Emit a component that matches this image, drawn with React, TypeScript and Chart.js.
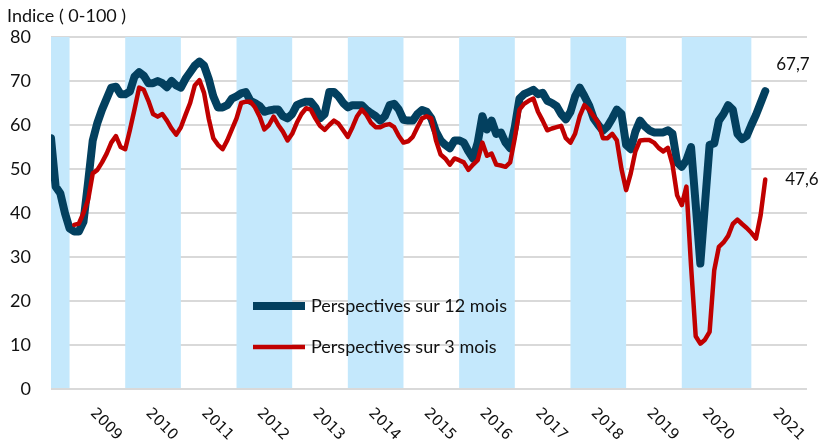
import React, { useEffect, useRef } from "react";
import { Chart, registerables } from "chart.js";

Chart.register(...registerables);

// Monthly observations, first month = September 2008
const START_YEAR = 2008;
const START_MONTH = 9;

const blue12m: number[] = [
  // 2008 Sep-Dec
  57, 46, 44.5, 40,
  // 2009
  36.5, 35.8, 35.8, 38, 47, 56.5, 60.5, 63.5, 66, 68.5, 68.7, 67,
  // 2010
  67, 67.6, 71, 72, 71.2, 69.5, 69.5, 70, 69.5, 68.6, 70, 69,
  // 2011
  68.5, 70.5, 72, 73.5, 74.4, 73.5, 70.5, 66.5, 64, 64, 64.5, 66,
  // 2012
  66.5, 67.2, 67.5, 65.5, 65, 64.3, 63, 63.3, 63.5, 63.5, 62, 61.5,
  // 2013
  62.5, 64.5, 65, 65.3, 65.3, 64, 61.5, 62.5, 67.5, 67.5, 66.5, 65,
  // 2014
  64, 64.5, 64.5, 64.5, 63.5, 62.7, 62, 61, 62, 64.5, 64.8, 63.5,
  // 2015
  61.2, 61, 61, 62.5, 63.4, 63, 61.5, 58.5, 56.5, 55.5, 54.7, 56.5,
  // 2016
  56.5, 56, 54, 52.4, 56, 62, 59, 61, 58, 58.3, 56, 54.7,
  // 2017
  59.5, 66, 67, 67.5, 68, 67, 67.3, 65.5, 65, 64.3, 62.5, 61.3,
  // 2018
  63, 66.5, 68.5, 66.6, 64.5, 61.5, 60, 58.7, 59.7, 61.5, 63.5, 62.5,
  // 2019
  55.5, 54.5, 58.5, 61, 59.7, 58.8, 58.3, 58.3, 58.3, 58.8, 58, 51.5,
  // 2020
  50.5, 52, 55, 42, 28.5, 42, 55.5, 55.8, 61, 62.5, 64.5, 63.5,
  // 2021
  58, 56.8, 57.5, 60, 62.3, 65, 67.7,
];

const red3m: (number | null)[] = [
  // 2008 Sep-Dec
  null, null, null, null,
  // 2009
  null, 37.3, 37.6, 40, 43, 49, 49.8, 51.5, 53.5, 56, 57.5, 55,
  // 2010
  54.5, 58.8, 63.5, 68.5, 68, 65.5, 62.5, 61.9, 62.5, 61, 59.2, 57.8,
  // 2011
  59.5, 62.3, 65, 69, 70.2, 67.3, 61.5, 57, 55.5, 54.5, 56.5, 59,
  // 2012
  61.5, 65, 65.3, 65.3, 64, 61.9, 59, 60, 61.9, 60, 58.5, 56.5,
  // 2013
  58, 60.5, 62.5, 63.8, 63.5, 61.5, 59.8, 58.9, 60, 61, 60.3, 58.8,
  // 2014
  57.3, 59.5, 62, 63.5, 62.3, 60.5, 59.5, 59.5, 60, 60.2, 59.5, 57.5,
  // 2015
  56, 56.3, 57.3, 59.5, 61.5, 62, 61.5, 56.5, 53.3, 52.4, 51, 52.4,
  // 2016
  52, 51.5, 49.8, 51, 52, 56, 53, 53.5, 51, 50.8, 50.5, 51.5,
  // 2017
  57, 63.5, 64.8, 65.5, 66, 63, 61, 58.8, 59.2, 59.5, 59.8, 57,
  // 2018
  56, 58, 62, 64.5, 63.5, 62, 60.5, 57, 57, 58, 56.5, 50,
  // 2019
  45.2, 49, 54, 56.5, 56.6, 56.6, 56, 54.8, 54, 54.8, 51, 44,
  // 2020
  41.8, 46, 28, 12, 10.3, 11.2, 13, 27, 32.3, 33.3, 34.8, 37.5,
  // 2021
  38.5, 37.5, 36.6, 35.5, 34.2, 39.5, 47.6,
];

const monthLabels: string[] = blue12m.map((_, i) => {
  const t = START_MONTH - 1 + i;
  const y = START_YEAR + Math.floor(t / 12);
  const m = (t % 12) + 1;
  return `${y}-${String(m).padStart(2, "0")}`;
});

// Shaded periods [startMonthIndex, endMonthIndex]
const bandRanges: [number, number][] = [
  [0, 4], [16, 28], [40, 52], [64, 76], [88, 100], [112, 124], [136, 151],
];

const yearLabels = ["2009", "2010", "2011", "2012", "2013", "2014", "2015", "2016", "2017", "2018", "2019", "2020", "2021"];
const yearTickMonths = [10, 22, 34, 46, 58, 70, 82, 94, 106, 118, 130, 142, 157.2];

const yTicks = [0, 10, 20, 30, 40, 50, 60, 70, 80];

const seriesNames = ["Perspectives sur 12 mois", "Perspectives sur 3 mois"];
const lastLabels = ["67,7", "47,6"];

const BLUE = "#03405F";
const RED = "#C00000";
const BAND = "#C4E8FC";

export default function App() {
  const ref = useRef<HTMLCanvasElement | null>(null);

  useEffect(() => {
    if (!ref.current) return;
    const n = blue12m.length;
    const xs = monthLabels.map((_, i) => i);

    const bandsPlugin = {
      id: "bands",
      beforeDatasetsDraw(chart: any) {
        const { ctx, chartArea, scales } = chart;
        ctx.save();
        ctx.fillStyle = BAND;
        for (const [a, b] of bandRanges) {
          const x0 = scales.x.getPixelForValue(a);
          const x1 = scales.x.getPixelForValue(b);
          ctx.fillRect(x0, chartArea.top, x1 - x0, chartArea.bottom - chartArea.top);
        }
        ctx.strokeStyle = "#d9d9d9";
        ctx.lineWidth = 2;
        ctx.beginPath();
        ctx.moveTo(chartArea.left, chartArea.bottom);
        ctx.lineTo(chartArea.right, chartArea.bottom);
        ctx.stroke();
        ctx.restore();
      },
    };

    const decorPlugin = {
      id: "decor",
      afterDraw(chart: any) {
        const { ctx, scales, chartArea } = chart;
        ctx.save();
        ctx.fillStyle = "#111";
        ctx.font = "18px Lato";
        ctx.textAlign = "left";
        ctx.textBaseline = "middle";
        ctx.fillText("Indice ( 0-100 )", 7, 16);

        ctx.font = "15px 'DejaVu Sans'";
        yearLabels.forEach((lab, i) => {
          const x = scales.x.getPixelForValue(yearTickMonths[i]) - 5;
          const y = chartArea.bottom + 22;
          ctx.save();
          ctx.translate(x, y);
          ctx.rotate(Math.PI / 4);
          ctx.textAlign = "left";
          ctx.textBaseline = "middle";
          ctx.fillText(lab, 0, 0);
          ctx.restore();
        });

        ctx.font = "17px Lato";
        const lx = scales.x.getPixelForValue(n - 1);
        ctx.fillText(lastLabels[0], lx + 11, scales.y.getPixelForValue(blue12m[n - 1]) - 27);
        ctx.fillText(lastLabels[1], lx + 20, scales.y.getPixelForValue(red3m[n - 1] as number));

        const items = [
          { name: seriesNames[0], color: BLUE, w: 8, y: 306 },
          { name: seriesNames[1], color: RED, w: 4.5, y: 347 },
        ];
        for (const it of items) {
          ctx.strokeStyle = it.color;
          ctx.lineWidth = it.w;
          ctx.lineCap = "butt";
          ctx.beginPath();
          ctx.moveTo(253, it.y);
          ctx.lineTo(305, it.y);
          ctx.stroke();
          ctx.fillStyle = "#111";
          ctx.font = "18px Lato";
          ctx.fillText(it.name, 311, it.y);
        }
        ctx.restore();
      },
    };

    const chart = new Chart(ref.current, {
      type: "line",
      data: {
        labels: xs,
        datasets: [
          {
            label: seriesNames[1],
            data: red3m,
            borderColor: RED,
            borderWidth: 4.5,
            pointRadius: 0,
            tension: 0,
            borderJoinStyle: "round",
            borderCapStyle: "round",
            order: 0,
          },
          {
            label: seriesNames[0],
            data: blue12m,
            borderColor: BLUE,
            borderWidth: 8,
            pointRadius: 0,
            tension: 0,
            borderJoinStyle: "round",
            borderCapStyle: "round",
            order: 1,
          },
        ],
      },
      options: {
        animation: false,
        responsive: false,
        layout: { padding: { top: 37, right: 13, bottom: 58, left: 0 } },
        plugins: { legend: { display: false }, tooltip: { enabled: false } },
        scales: {
          x: {
            type: "linear",
            min: 0,
            max: 163,
            display: false,
          },
          y: {
            min: 0,
            max: 80,
            afterFit: (s: any) => {
              s.width = 51;
            },
            afterBuildTicks: (s: any) => {
              s.ticks = yTicks.map((v) => ({ value: v }));
            },
            border: { display: false },
            grid: { color: "#d9d9d9", lineWidth: 2, drawTicks: false },
            ticks: {
              padding: 20,
              color: "#111",
              font: { family: "Lato", size: 18 },
            },
          },
        },
      },
      plugins: [bandsPlugin, decorPlugin],
    });
    return () => chart.destroy();
  }, []);

  return (
    <div style={{ position: "fixed", left: 0, top: 0, width: 820, height: 447, background: "#fff" }}>
      <canvas ref={ref} width={820} height={447} style={{ display: "block" }} />
    </div>
  );
}
